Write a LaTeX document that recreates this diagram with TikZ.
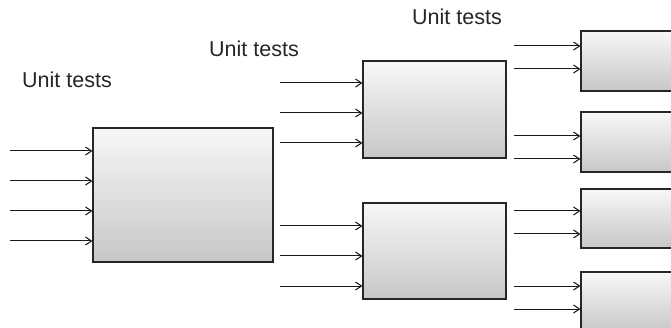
\documentclass[tikz,border=0pt]{standalone}
\usepackage{fontspec}
\setmainfont{Liberation Sans}
\usetikzlibrary{arrows.meta}

\tikzset{
  unitbox/.style={draw=black!85, line width=1.2pt, inner sep=0pt, top color=white!97!black, bottom color=black!22},
  feed/.style={draw=black!90, line width=1pt, -{Straight Barb[length=6pt,width=8pt,line width=1pt]}},
  tag/.style={anchor=base west, inner sep=0pt, font=\fontsize{21.5}{24}\selectfont, text=black!85}
}

\begin{document}
\begin{tikzpicture}[x=1pt,y=-1pt]
  \useasboundingbox (0,0) rectangle (671,328);
  \clip (0,0) rectangle (671,328);

  \node[unitbox, minimum width=180pt, minimum height=134pt] (top) at (183,195) {};
  \node[unitbox, minimum width=143pt, minimum height=97pt] (midA) at (434.5,109.5) {};
  \node[unitbox, minimum width=143pt, minimum height=96pt] (midB) at (434.5,251) {};

  \node[unitbox, minimum width=120pt, minimum height=60pt] (leafA) at (641,61) {};
  \node[unitbox, minimum width=120pt, minimum height=60pt] (leafB) at (641,142) {};
  \node[unitbox, minimum width=120pt, minimum height=59pt] (leafC) at (641,218.5) {};
  \node[unitbox, minimum width=120pt, minimum height=60pt] (leafD) at (641,302) {};

  \node[tag] (tagTop) at (22,88) {Unit tests};
  \node[tag] (tagMid) at (209,57) {Unit tests};
  \node[tag] (tagLeaf) at (412,25) {Unit tests};

  \foreach \y in {151,181,211,241} {
    \coordinate (t\y) at (10,\y);
    \draw[feed] (t\y) -- (t\y -| top.west);
  }
  \foreach \y in {83,113,143} {
    \coordinate (a\y) at (280,\y);
    \draw[feed] (a\y) -- (a\y -| midA.west);
  }
  \foreach \y in {226,256,286} {
    \coordinate (b\y) at (280,\y);
    \draw[feed] (b\y) -- (b\y -| midB.west);
  }
  \foreach \y/\leaf in {46/leafA,69/leafA,136/leafB,159/leafB,211/leafC,234/leafC,286/leafD,309/leafD} {
    \coordinate (l\y) at (514,\y);
    \draw[feed] (l\y) -- (l\y -| \leaf.west);
  }
\end{tikzpicture}
\end{document}
